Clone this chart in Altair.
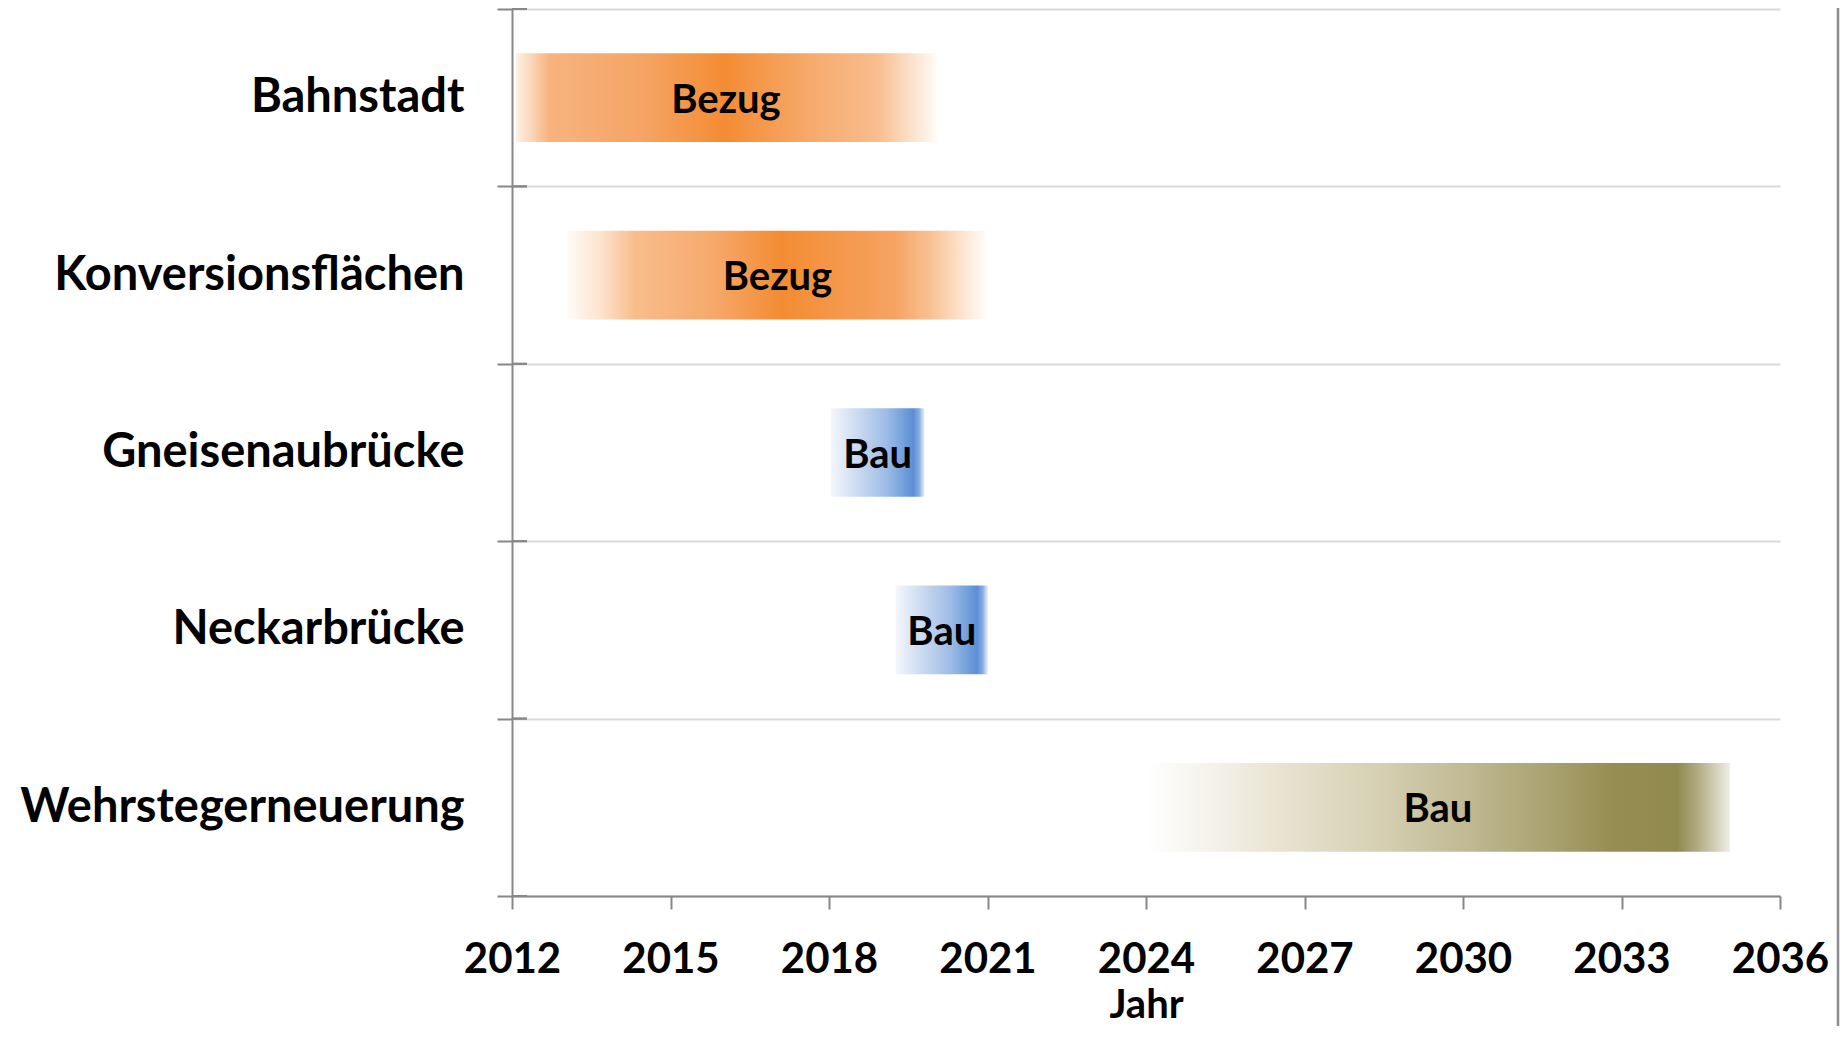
import altair as alt
import pandas as pd

tasks = ["Bahnstadt", "Konversionsflächen", "Gneisenaubrücke", "Neckarbrücke", "Wehrstegerneuerung"]
starts = [2012.07, 2013.05, 2018.03, 2019.26, 2024.0]
ends = [2020.03, 2021.0, 2019.81, 2021.01, 2035.05]
phases = ["Bezug", "Bezug", "Bau", "Bau", "Bau"]
x_ticks = [2012, 2015, 2018, 2021, 2024, 2027, 2030, 2033, 2036]

df = pd.DataFrame({"task": tasks, "start": starts, "end": ends, "phase": phases})

def grad(stops):
    return alt.LinearGradient(
        gradient="linear", x1=0, x2=1, y1=0, y2=0,
        stops=[alt.GradientStop(offset=o, color=c) for o, c in stops],
    )

gradients = [
    grad([(0, "#fdf1e6"), (0.03, "#fbdcc2"), (0.08, "#f7b37e"), (0.3, "#f5a465"),
          (0.5, "#f38c33"), (0.7, "#f6aa6c"), (0.86, "#f8bd8e"), (0.93, "#fbdcc2"), (1, "#fffbf7")]),
    grad([(0, "#fffbf7"), (0.08, "#fce3cd"), (0.16, "#f8bd8d"), (0.35, "#f6a86a"),
          (0.51, "#f38c33"), (0.78, "#f6a362"), (0.87, "#f9c397"), (0.95, "#fde9d8"), (1, "#fffdfb")]),
    grad([(0, "#f4f7fd"), (0.3, "#c9d9f0"), (0.6, "#9cbbe6"), (0.88, "#5b8fd6"),
          (0.94, "#86acdf"), (1, "#eef3fb")]),
    grad([(0, "#f4f7fd"), (0.3, "#c9d9f0"), (0.6, "#9cbbe6"), (0.88, "#5b8fd6"),
          (0.94, "#86acdf"), (1, "#eef3fb")]),
    grad([(0, "#ffffff"), (0.1, "#f5f3ec"), (0.25, "#e6e1cd"), (0.4, "#d6cfb2"),
          (0.55, "#c0b992"), (0.7, "#a8a06d"), (0.8, "#968d52"), (0.91, "#918a4f"),
          (0.94, "#aba57b"), (0.97, "#cdc9ae"), (1, "#eeede4")]),
]

FONT = "Lato"
AX = "#878787"
W, H = 1268, 887

xscale = alt.Scale(domain=[2012, 2036], nice=False, zero=False)
yscale = alt.Scale(domain=tasks, paddingInner=0, paddingOuter=0)

xaxis = alt.Axis(
    values=x_ticks, format="d", title="Jahr", grid=False,
    domainColor=AX, domainWidth=2, tickColor=AX, tickWidth=2, tickSize=13,
    labelFont=FONT, labelFontWeight="bold", labelFontSize=42, labelColor="#000000",
    labelPadding=30, labelFlush=False,
    titleFont=FONT, titleFontWeight="bold", titleFontSize=40, titleColor="#000000",
    titlePadding=5,
)
yaxis = alt.Axis(
    title=None, tickBand="extent", tickSize=15, tickColor=AX, tickWidth=2,
    domainColor=AX, domainWidth=2, grid=True, gridColor="#d9d9d9", gridWidth=2,
    labelFont=FONT, labelFontWeight="bold", labelFontSize=47, labelColor="#000000",
    labelPadding=33, labelLimit=800,
)

Y = alt.Y("task:N", sort=tasks, scale=yscale, axis=yaxis)

layers = []
for t, g in zip(tasks, gradients):
    layers.append(
        alt.Chart(df).transform_filter(alt.datum.task == t).mark_bar(
            color=g, height=alt.RelativeBandSize(band=0.5)
        ).encode(
            x=alt.X("start:Q", scale=xscale, axis=xaxis),
            x2="end:Q",
            y=Y,
        )
    )

text = alt.Chart(df).transform_calculate(mid="(datum.start + datum.end) / 2").mark_text(
    font=FONT, fontWeight="bold", fontSize=40, color="#000000", baseline="middle", dy=3
).encode(
    x=alt.X("mid:Q", scale=xscale, axis=xaxis),
    y=Y,
    text="phase:N",
)

inner_top = alt.Chart(df).mark_rule(color=AX, strokeWidth=2).encode(
    y=alt.Y("task:N", sort=tasks, scale=yscale, axis=yaxis, bandPosition=0),
    x=alt.value(0), x2=alt.value(15),
)
inner_bottom = alt.Chart(df).mark_rule(color=AX, strokeWidth=2).encode(
    y=alt.Y("task:N", sort=tasks, scale=yscale, axis=yaxis, bandPosition=1),
    x=alt.value(0), x2=alt.value(15),
)
frame = alt.Chart(pd.DataFrame({"a": [0]})).mark_rule(color="#8c8c8c", strokeWidth=2.5).encode(
    x=alt.value(W + 58), y=alt.value(-9), y2=alt.value(H + 200),
)

chart = alt.layer(*layers, text, inner_top, inner_bottom, frame).properties(
    width=W, height=H,
    autosize=alt.AutoSizeParams(type="none"),
    padding={"left": 504, "top": 1, "right": 60, "bottom": 130},
).configure_view(stroke=None)

chart.save("out.html", embed_options={"renderer": "svg", "actions": False})
